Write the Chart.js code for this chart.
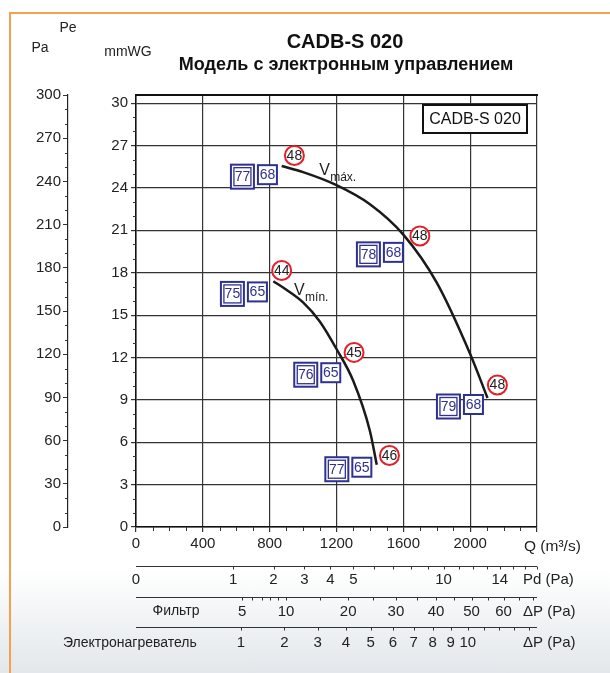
<!DOCTYPE html>
<html lang="ru">
<head>
<meta charset="UTF-8">
<title>CADB-S 020</title>
<script src="https://cdn.jsdelivr.net/npm/chart.js"></script>
<style>
  html, body { margin: 0; padding: 0; }
  body { width: 610px; height: 673px; overflow: hidden; position: relative;
         background: linear-gradient(to bottom, #fff 0, #fff 570px, #eef1f3 630px, #e3e7eb 673px); }
  .frame { position: absolute; left: 9px; top: 12px; right: -5px; bottom: -5px;
           border-left: 2px solid #f6a04d; border-top: 2px solid #f6a04d; }
  canvas { position: absolute; left: 0; top: 0; }
</style>
</head>
<body>
<div class="frame"></div>
<canvas id="chart" width="610" height="673"></canvas>

<script>
const FONT = '"Liberation Sans", Arial, Helvetica, sans-serif';

// curves: Q / Pe (mmWG)
const vMaxQ = [872, 1000, 1200, 1400, 1600, 1800, 2000, 2104];
const vMaxP = [25.55, 25.12, 24.2, 22.85, 20.7, 17.3, 12.25, 9.13];
const vMinQ = [822, 900, 1000, 1100, 1200, 1300, 1400, 1441];
const vMinP = [17.4, 16.8, 15.9, 14.55, 12.6, 10.35, 6.8, 4.4];

// red circles (dB)
const circleQ = [948, 1699, 2163, 872, 1305, 1517];
const circleP = [26.3, 20.6, 10.05, 18.16, 12.36, 5.06];
const circleTxt = ['48', '48', '48', '44', '45', '46'];

// blue boxes (double box / single box)
const boxQ = [637, 1391, 1870, 577, 1016, 1202];
const boxP = [24.8, 19.3, 8.53, 16.5, 10.78, 4.09];
const boxBig = ['77', '78', '79', '75', '76', '77'];
const boxSmall = ['68', '68', '68', '65', '65', '65'];

// curve names
const curveName = ['máx.', 'mín.'];
const curveNameQ = [1132, 982];
const curveNameP = [25.2, 16.7];

// bottom scales
const pdLabels = [0, 1, 2, 3, 4, 5, 10, 14];
const pdTicks = [1, 2, 3, 4, 5, 6, 7, 8, 9, 10, 11, 12, 13, 14, 15, 16, 17];
const filterLabels = [5, 10, 20, 30, 40, 50, 60];
const filterTicks = [5, 6, 7, 8, 9, 10, 15, 20, 25, 30, 35, 40, 45, 50, 55, 60, 65, 70];
const heaterLabels = [1, 2, 3, 4, 5, 6, 7, 8, 9, 10];
const heaterTicks = [1, 2, 3, 4, 5, 6, 7, 8, 9, 10, 11, 12, 13, 14];

const pdToQ = v => 582 * Math.sqrt(v);
const filterToQ = v => 284 * Math.sqrt(v);
const heaterToQ = v => 628 * Math.sqrt(v);

const NAVY = '#2e3192';
const RED = '#e3202a';

function pts(qs, ps) { return qs.map((q, i) => ({ x: q, y: ps[i] })); }

const decor = {
  id: 'decor',
  afterDatasetsDraw(chart) {
    const { ctx, scales: { x, y } } = chart;
    ctx.save();
    ctx.textAlign = 'center';
    ctx.textBaseline = 'middle';

    // boxes
    boxQ.forEach((q, i) => {
      const cx = x.getPixelForValue(q), cy = y.getPixelForValue(boxP[i]);
      ctx.fillStyle = '#fff';
      ctx.fillRect(cx - 11.5, cy - 12, 23, 24);
      ctx.strokeStyle = NAVY;
      ctx.lineWidth = 2;
      ctx.strokeRect(cx - 11.5, cy - 12, 23, 24);
      ctx.lineWidth = 1.3;
      ctx.strokeRect(cx - 8.5, cy - 9, 17, 18);
      ctx.fillStyle = NAVY;
      ctx.font = '14px ' + FONT;
      ctx.fillText(boxBig[i], cx, cy + 0.5);
      const sx = cx + 25, sy = cy - 2;
      ctx.fillStyle = '#fff';
      ctx.fillRect(sx - 9.5, sy - 9.5, 19, 19);
      ctx.lineWidth = 2;
      ctx.strokeRect(sx - 9.5, sy - 9.5, 19, 19);
      ctx.fillStyle = NAVY;
      ctx.fillText(boxSmall[i], sx, sy + 0.5);
    });

    // circles
    circleQ.forEach((q, i) => {
      const cx = x.getPixelForValue(q), cy = y.getPixelForValue(circleP[i]);
      ctx.beginPath();
      ctx.arc(cx, cy, 9.5, 0, Math.PI * 2);
      ctx.fillStyle = '#fff';
      ctx.fill();
      ctx.strokeStyle = RED;
      ctx.lineWidth = 2;
      ctx.stroke();
      ctx.fillStyle = '#222';
      ctx.font = '14px ' + FONT;
      ctx.fillText(circleTxt[i], cx, cy + 0.5);
    });

    // curve names
    curveNameQ.forEach((q, i) => {
      const px = x.getPixelForValue(q), py = y.getPixelForValue(curveNameP[i]);
      ctx.fillStyle = '#222';
      ctx.textAlign = 'left';
      ctx.font = '16px ' + FONT;
      ctx.fillText('V', px - 6, py);
      ctx.font = '12px ' + FONT;
      ctx.fillText(curveName[i], px + 5, py + 7);
    });
    ctx.restore();
  },
  afterDraw(chart) {
    const { ctx, chartArea: a, scales: { x, y, yPa } } = chart;
    ctx.save();

    // top frame line
    ctx.strokeStyle = '#111';
    ctx.lineWidth = 2;
    ctx.beginPath();
    ctx.moveTo(a.left, a.top);
    ctx.lineTo(a.right + 1, a.top);
    ctx.stroke();

    // minor ticks
    ctx.lineWidth = 1;
    ctx.strokeStyle = '#333';
    ctx.beginPath();
    for (let q = 100; q < 2400; q += 100) {
      if (q % 400 === 0) continue;
      const px = Math.round(x.getPixelForValue(q)) + 0.5;
      ctx.moveTo(px, a.bottom); ctx.lineTo(px, a.bottom + 4);
    }
    for (let v = 1; v < 30; v++) {
      if (v % 3 === 0) continue;
      const py = Math.round(y.getPixelForValue(v)) + 0.5;
      ctx.moveTo(a.left - 3, py); ctx.lineTo(a.left, py);
    }
    for (let v = 10; v < 300; v += 10) {
      if (v % 30 === 0) continue;
      const py = Math.round(yPa.getPixelForValue(v)) + 0.5;
      ctx.moveTo(yPa.right - 3, py); ctx.lineTo(yPa.right, py);
    }
    ctx.stroke();

    // model box
    ctx.lineWidth = 2;
    ctx.strokeStyle = '#111';
    ctx.fillStyle = '#fff';
    ctx.fillRect(a.right - 114, a.top + 10, 104, 28);
    ctx.strokeRect(a.right - 114, a.top + 10, 104, 28);
    ctx.fillStyle = '#111';
    ctx.font = '16px ' + FONT;
    ctx.textAlign = 'center';
    ctx.textBaseline = 'middle';
    ctx.fillText('CADB-S 020', a.right - 62, a.top + 24.5);

    // titles
    ctx.font = 'bold 20px ' + FONT;
    ctx.fillText('CADB-S 020', 345, 42);
    ctx.font = 'bold 18px ' + FONT;
    ctx.fillText('Модель с электронным управлением', 346, 65);
    ctx.font = '14px ' + FONT;
    ctx.fillStyle = '#222';
    ctx.fillText('Pe', 68, 28);
    ctx.fillText('Pa', 40, 48);
    ctx.fillText('mmWG', 128, 52);

    // Q unit
    ctx.textAlign = 'left';
    ctx.font = '15.5px ' + FONT;
    ctx.fillText('Q (m³/s)', a.right - 13, a.bottom + 20);

    // bottom scales
    const rows = [
      { line: 39, text: 53, labels: pdLabels, ticks: pdTicks, conv: pdToQ, unit: 'Pd (Pa)' },
      { line: 70, text: 85, labels: filterLabels, ticks: filterTicks, conv: filterToQ, unit: 'ΔP (Pa)' },
      { line: 100, text: 116, labels: heaterLabels, ticks: heaterTicks, conv: heaterToQ, unit: 'ΔP (Pa)' }
    ];
    rows.forEach(r => {
      const ly = a.bottom + r.line + 0.5;
      ctx.strokeStyle = '#333';
      ctx.lineWidth = 1.2;
      ctx.beginPath();
      ctx.moveTo(a.left, ly); ctx.lineTo(a.right, ly);
      ctx.stroke();
      ctx.lineWidth = 1;
      ctx.beginPath();
      r.ticks.forEach(t => {
        const px = Math.round(x.getPixelForValue(r.conv(t))) + 0.5;
        ctx.moveTo(px, ly); ctx.lineTo(px, ly + 3);
      });
      ctx.stroke();
      ctx.fillStyle = '#222';
      ctx.font = '15px ' + FONT;
      ctx.textAlign = 'center';
      r.labels.forEach(v => {
        ctx.fillText(String(v), x.getPixelForValue(r.conv(v)), a.bottom + r.text);
      });
      ctx.textAlign = 'left';
      ctx.fillText(r.unit, a.right - 14, a.bottom + r.text);
    });
    ctx.font = '14px ' + FONT;
    ctx.textAlign = 'center';
    ctx.fillText('Фильтр', 176, a.bottom + 84);
    ctx.textAlign = 'left';
    ctx.fillText('Электронагреватель', 63, a.bottom + 116);
    ctx.restore();
  }
};

new Chart(document.getElementById('chart'), {
  type: 'scatter',
  data: {
    datasets: [
      { data: pts(vMaxQ, vMaxP), showLine: true, borderColor: '#1a1a1a', borderWidth: 2.5,
        pointRadius: 0, cubicInterpolationMode: 'monotone', yAxisID: 'y' },
      { data: pts(vMinQ, vMinP), showLine: true, borderColor: '#1a1a1a', borderWidth: 2.5,
        pointRadius: 0, cubicInterpolationMode: 'monotone', yAxisID: 'y' }
    ]
  },
  options: {
    responsive: false,
    animation: false,
    devicePixelRatio: 1,
    layout: { padding: { left: 0, top: 95, right: 73, bottom: 116 } },
    plugins: { legend: { display: false }, tooltip: { enabled: false } },
    scales: {
      x: {
        type: 'linear', min: 0, max: 2400, position: 'bottom',
        afterFit: s => { s.height = 30; },
        ticks: { stepSize: 400, autoSkip: false, maxRotation: 0, padding: 3, color: '#222',
                 font: { family: FONT, size: 15 },
                 callback: v => v === 2400 ? '' : v },
        grid: { color: '#333', lineWidth: 1.2, tickLength: 5, tickColor: '#333' },
        border: { color: '#111', width: 1.5 }
      },
      y: {
        min: 0, max: 300 / 9.81, position: 'left', weight: 1,
        afterFit: s => { s.width = 68; },
        ticks: { stepSize: 3, includeBounds: false, padding: 3, color: '#222',
                 font: { family: FONT, size: 15 } },
        grid: { color: '#333', lineWidth: 1.2, tickLength: 5, tickColor: '#333' },
        border: { color: '#111', width: 1.5 }
      },
      yPa: {
        min: 0, max: 300, position: 'left', weight: 2,
        afterFit: s => { s.width = 68; },
        ticks: { stepSize: 30, padding: 2, color: '#222', font: { family: FONT, size: 15 } },
        grid: { drawOnChartArea: false, tickLength: 5, tickColor: '#333' },
        border: { color: '#222', width: 1.2 }
      }
    }
  },
  plugins: [decor]
});
</script>
</body>
</html>
